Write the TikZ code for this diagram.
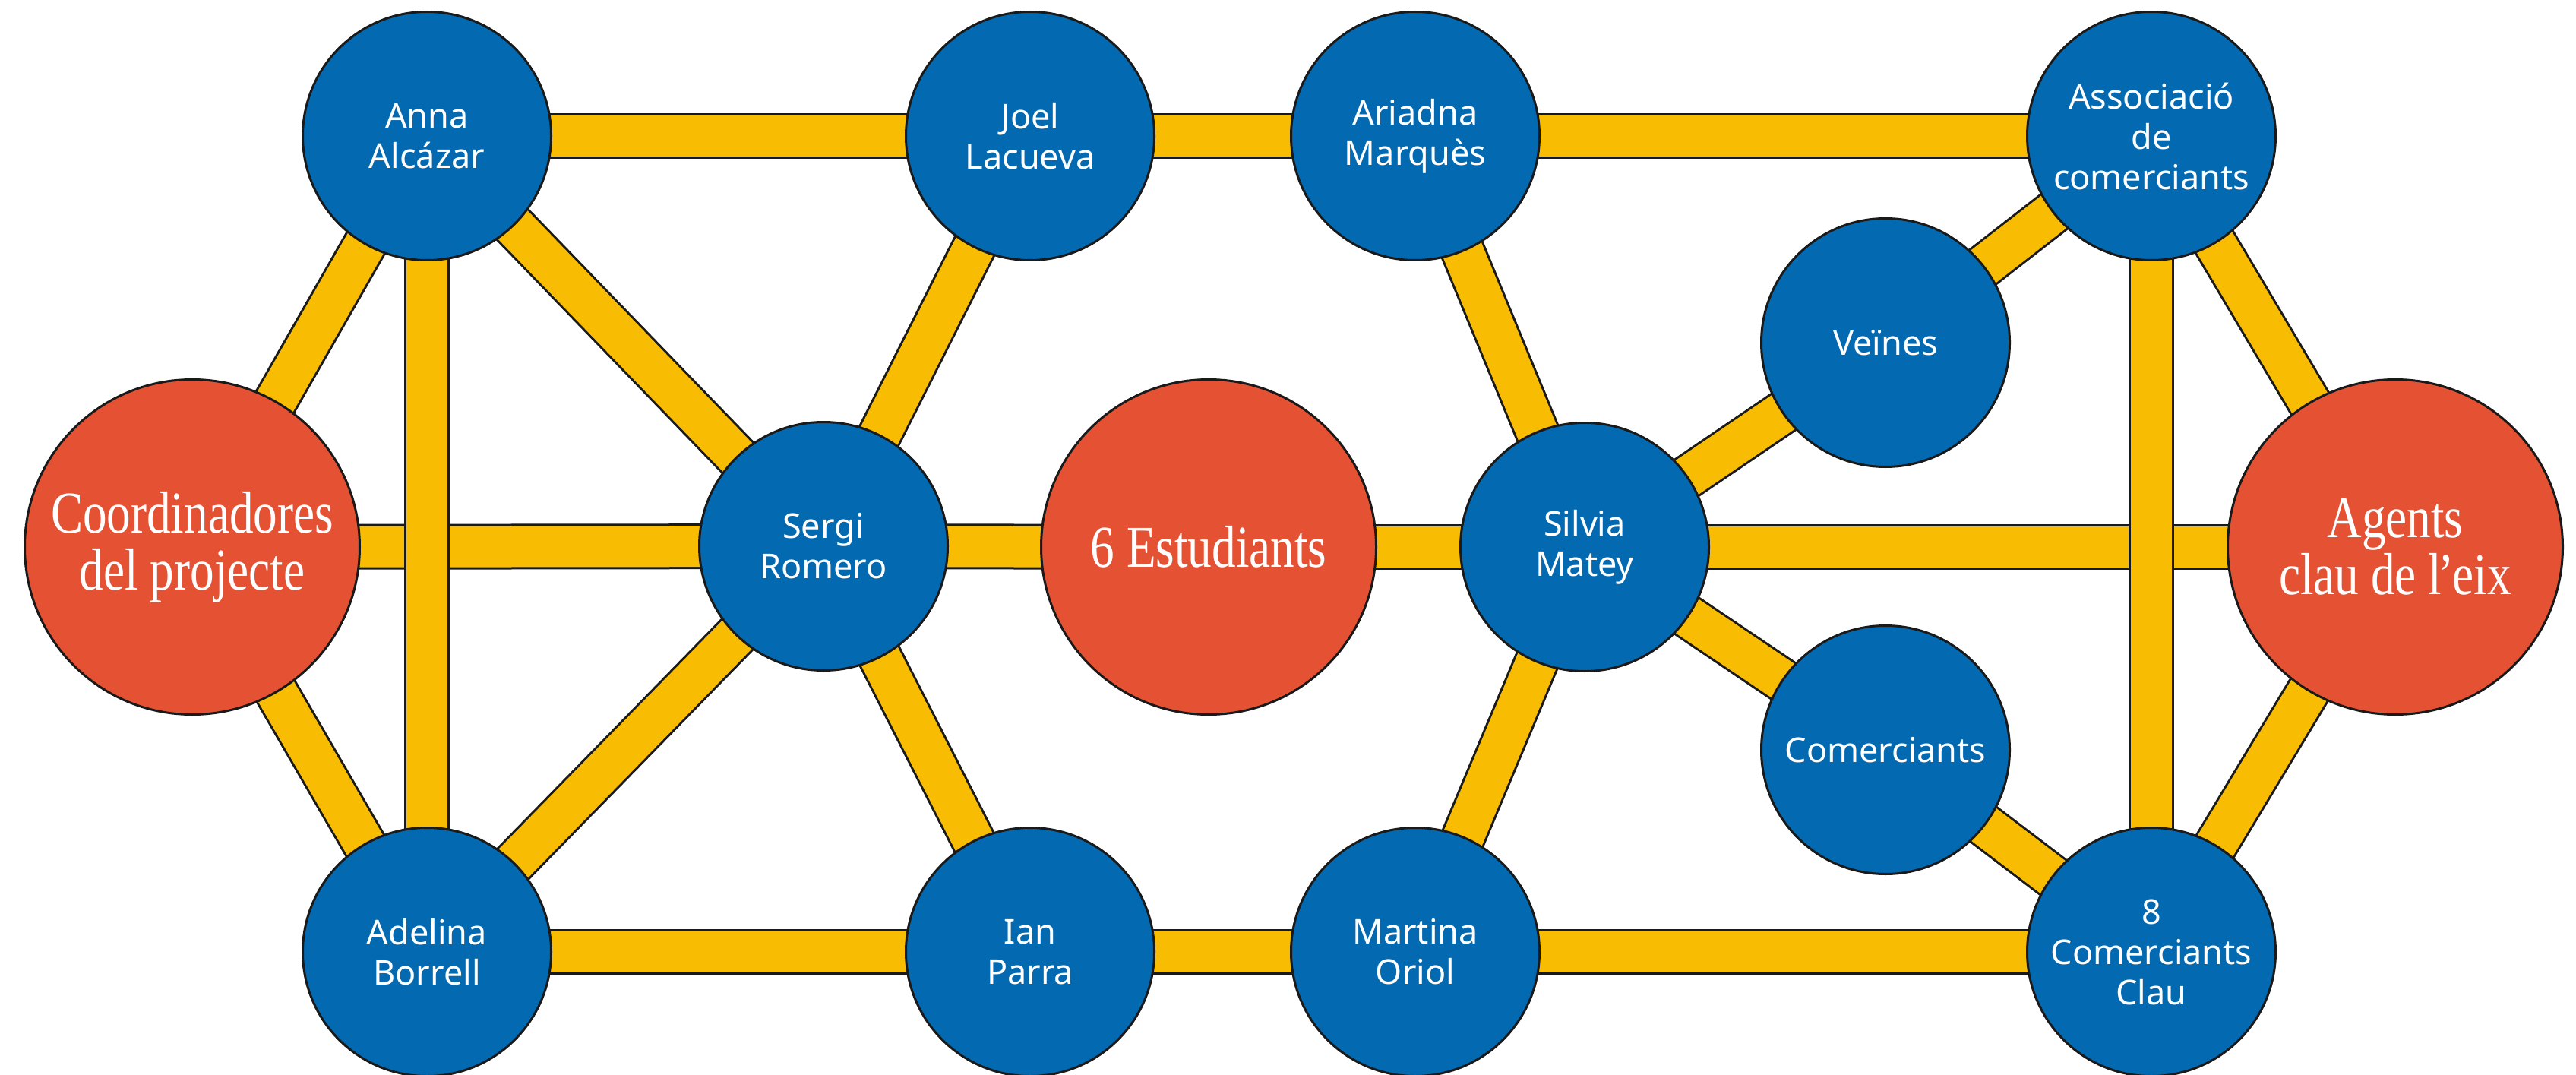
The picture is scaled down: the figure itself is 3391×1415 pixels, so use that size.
\documentclass[tikz,border=0pt]{standalone}
\usepackage{fontspec}
\setmainfont{Noto Sans}
\newfontfamily\redfont[FakeStretch=0.81]{Liberation Serif}
\usetikzlibrary{backgrounds}
\definecolor{nodeblue}{RGB}{3,105,177}
\definecolor{nodered}{RGB}{229,81,51}
\definecolor{bandyellow}{RGB}{248,188,2}
\definecolor{outline}{RGB}{26,26,26}
\tikzset{
  person/.style={circle, fill=nodeblue, draw=outline, line width=3pt,
    minimum size=327pt, inner sep=0pt, text=white, align=center,
    font=\fontsize{45}{53}\selectfont},
  group/.style={circle, fill=nodered, draw=outline, line width=3pt,
    minimum size=441pt, inner sep=0pt, text=white, align=center,
    font=\redfont\fontsize{78}{75}\selectfont},
  band/.style={draw=outline, line width=3pt, double=bandyellow,
    double distance=54pt},
}
\begin{document}
\begin{tikzpicture}[x=1pt,y=-1pt]
\useasboundingbox (0,0) rectangle (3391,1415);

% groups
\node[group] (coord)  at (253,720)  {Coordinadores\\del projecte};
\node[group] (estud)  at (1591,720) {6 Estudiants};
\node[group] (agents) at (3153,720) {Agents\\clau de l\kern-0.06em’\kern-0.02em eix};

% people and collectives
\node[person] (anna)   at (562,179)   {Anna\\Alcázar};
\node[person] (adel)   at (562,1253)  {Adelina\\Borrell};
\node[person] (sergi)  at (1084,719)  {Sergi\\Romero};
\node[person] (joel)   at (1356,179)  {Joel\\Lacueva};
\node[person] (ian)    at (1356,1253) {Ian\\Parra};
\node[person] (ariad)  at (1863,179)  {Ariadna\\Marquès};
\node[person] (silvia) at (2086,720)  {Silvia\\Matey};
\node[person] (mart)   at (1863,1253) {Martina\\Oriol};
\node[person] (veines) at (2482,451)  {Veïnes};
\node[person] (comer)  at (2482,987)  {Comerciants};
\node[person] (assoc)  at (2832,179)  {Associació\\de\\comerciants};
\node[person] (clau)   at (2832,1253) {8\\Comerciants\\Clau};

\begin{scope}[on background layer]
  \fill[white] (0,0) rectangle (3391,1415);
  % horizontal links
  \foreach \a/\b in {anna/joel, joel/ariad, ariad/assoc, coord/sergi,
      sergi/estud, estud/silvia, silvia/agents, adel/ian, ian/mart, mart/clau}
    \draw[band] (\a.center) -- (\b.center);
  % diagonal links
  \foreach \a/\b in {anna/coord, anna/sergi, joel/sergi, ariad/silvia,
      assoc/veines, assoc/agents, silvia/veines, silvia/comer, silvia/mart,
      coord/adel, adel/sergi, sergi/ian, comer/clau, clau/agents}
    \draw[band] (\a.center) -- (\b.center);
  % vertical links, laid over the rest
  \foreach \a/\b in {anna/adel, assoc/clau}
    \draw[band] (\a.center) -- (\b.center);
\end{scope}
\end{tikzpicture}
\end{document}
